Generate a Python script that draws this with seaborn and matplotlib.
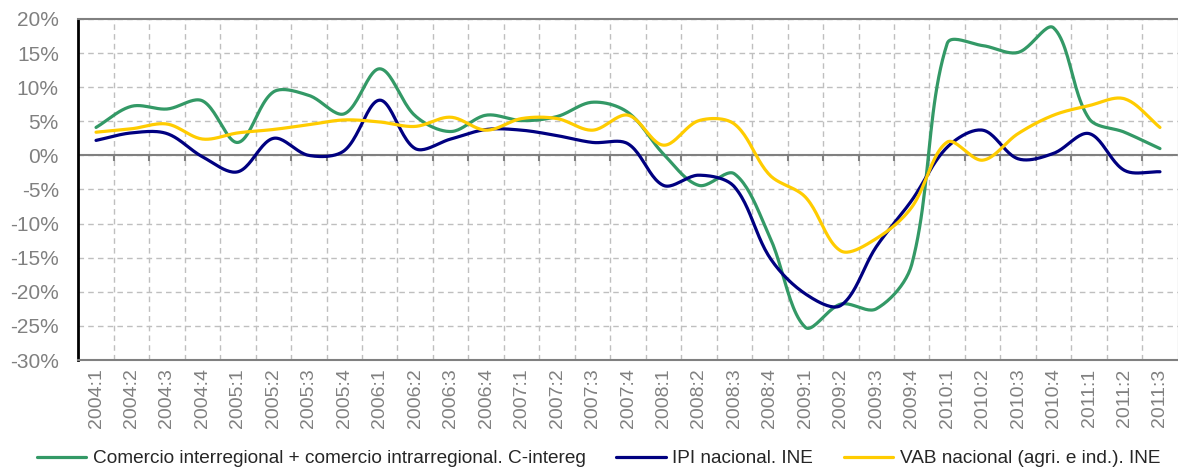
import numpy as np
import pandas as pd
import matplotlib
matplotlib.use("Agg")
import matplotlib.pyplot as plt
import seaborn as sns

quarters = ["2004:1", "2004:2", "2004:3", "2004:4", "2005:1", "2005:2", "2005:3", "2005:4",
            "2006:1", "2006:2", "2006:3", "2006:4", "2007:1", "2007:2", "2007:3", "2007:4",
            "2008:1", "2008:2", "2008:3", "2008:4", "2009:1", "2009:2", "2009:3", "2009:4",
            "2010:1", "2010:2", "2010:3", "2010:4", "2011:1", "2011:2", "2011:3"]

comercio = [4.1, 7.2, 6.8, 8.0, 1.9, 9.3, 8.8, 6.1, 12.7, 5.8, 3.5, 5.9, 5.1, 5.7, 7.8, 6.3,
            0.2, -4.4, -2.7, -12.0, -25.2, -21.8, -22.5, -16.0, 16.4, 16.1, 15.1, 18.7, 5.4, 3.4, 1.0]
ipi = [2.2, 3.3, 3.2, -0.2, -2.4, 2.5, 0.0, 0.7, 8.1, 1.0, 2.4, 3.8, 3.7, 2.9, 1.9, 1.7,
       -4.4, -2.9, -4.6, -15.0, -20.3, -22.0, -13.4, -6.6, 1.2, 3.7, -0.5, 0.3, 3.2, -2.2, -2.4]
vab = [3.4, 3.9, 4.6, 2.4, 3.3, 3.8, 4.5, 5.2, 4.9, 4.25, 5.6, 3.7, 5.4, 5.4, 3.7, 5.9,
       1.5, 5.1, 4.6, -2.9, -6.1, -14.0, -12.2, -7.6, 1.95, -0.7, 3.2, 5.9, 7.3, 8.3, 4.1]

series_names = ["Comercio interregional + comercio intrarregional. C-intereg",
                "IPI nacional. INE",
                "VAB nacional (agri. e ind.). INE"]
colors = ["#339966", "#000080", "#FFCC00"]

# approx pixels per unit on each axis, used so the smoothing behaves like a spreadsheet's
XSCALE, YSCALE = 35.5, 6.82


def smooth(y, n=24):
    # bezier smoothing with handles scaled by neighbouring segment lengths
    y = np.asarray(y, dtype=float)
    x = np.arange(len(y), dtype=float)
    P = np.column_stack([x * XSCALE, y * YSCALE])
    m = len(P)
    pts = []
    for i in range(m - 1):
        p0 = P[max(i - 1, 0)]
        p1 = P[i]
        p2 = P[i + 1]
        p3 = P[min(i + 2, m - 1)]
        d01 = np.linalg.norm(p1 - p0)
        d12 = np.linalg.norm(p2 - p1)
        d23 = np.linalg.norm(p3 - p2)
        if d01 > 0:
            c1 = p1 + (p2 - p0) * d12 / (d01 + d12) / 3
        else:
            c1 = p1 + (p2 - p1) / 3
        if d23 > 0:
            c2 = p2 - (p3 - p1) * d12 / (d12 + d23) / 3
        else:
            c2 = p2 - (p2 - p1) / 3
        t = np.linspace(0, 1, n, endpoint=False)[:, None]
        seg = ((1 - t) ** 3) * p1 + 3 * t * (1 - t) ** 2 * c1 + 3 * t ** 2 * (1 - t) * c2 + t ** 3 * p2
        pts.append(seg)
    pts.append(P[-1:])
    pts = np.vstack(pts)
    return pts[:, 0] / XSCALE, pts[:, 1] / YSCALE


frames = []
for name, vals in zip(series_names, [comercio, ipi, vab]):
    sx, sy = smooth(vals)
    frames.append(pd.DataFrame({"x": sx, "valor": sy, "serie": name}))
data = pd.concat(frames, ignore_index=True)

sns.set_style("white")
plt.rcParams["font.family"] = ["Liberation Sans", "DejaVu Sans"]

fig = plt.figure(figsize=(11.78, 4.70), dpi=100)
ax = fig.add_axes([78.3 / 1178, 110 / 470, 1099.4 / 1178, 341 / 470])

grey = "#808080"
bounds = np.arange(len(quarters) + 1) - 0.5
ax.set_xticks(bounds[1:-1], minor=True)
ax.set_yticks(np.arange(-30, 21, 5))
ax.grid(True, which="minor", axis="x", color="#BFBFBF", linestyle=(0, (4, 3)), linewidth=1)
ax.grid(True, which="major", axis="y", color="#BFBFBF", linestyle=(0, (4, 3)), linewidth=1)
ax.set_axisbelow(True)
ax.axhline(0, color=grey, linewidth=1.5, zorder=1)
ax.vlines(bounds[1:-1], -0.8, 0, color=grey, linewidth=1.5, zorder=1)

sns.lineplot(data=data, x="x", y="valor", hue="serie", palette=colors,
             linewidth=2.3, ax=ax, legend=False, sort=False, estimator=None)

ax.set_xlim(-0.5, len(quarters) - 0.5)
ax.set_ylim(-30, 20)
ax.set_xticks(range(len(quarters)))
ax.set_xticklabels(quarters, rotation=90)
ax.set_yticklabels([f"{v}%" for v in range(-30, 21, 5)])
ax.tick_params(axis="x", which="both", length=0, pad=6, labelsize=14, labelcolor=grey)
ax.tick_params(axis="y", length=6, width=1.5, color="black", pad=8, labelsize=15, labelcolor=grey)
ax.set_xlabel("")
ax.set_ylabel("")

for side in ["top", "bottom", "right"]:
    ax.spines[side].set_color(grey)
    ax.spines[side].set_linewidth(1.5)
ax.spines["right"].set_color("#D9D9D9")
ax.spines["right"].set_linewidth(1)
ax.spines["left"].set_color("black")
ax.spines["left"].set_linewidth(2)

handles = [plt.Line2D([], [], color=c, linewidth=2.3) for c in colors]
fig.legend(handles, series_names, loc="center", bbox_to_anchor=(0.508, 0.024), ncol=3,
           frameon=False, fontsize=13.7, handlelength=2.6, handletextpad=0.35,
           columnspacing=1.6)

fig.savefig("out.png", dpi=100)
